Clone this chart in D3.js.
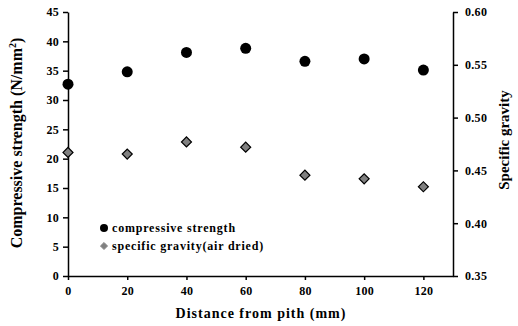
<!DOCTYPE html>
<html lang="en">
<head>
<meta charset="UTF-8">
<script src="https://d3js.org/d3.v7.min.js"></script>
<style>
    body { margin: 0; background: #fff; }
    text { font-family: "Liberation Serif", "DejaVu Serif", serif; font-weight: bold; }
    .axis path, .axis line { stroke: #000; stroke-width: 1.5px; }
    .axis text { font-size: 12px; fill: #000; letter-spacing: 0.3px; }
</style>
</head>
<body>
<svg width="518" height="326"></svg>
<script>
    // distance from pith (mm)
    var distance = [0, 20, 40, 60, 80, 100, 120];
    var strength = [32.7, 34.8, 38.1, 38.8, 36.6, 37.0, 35.1];
    var gravity = [0.467, 0.4655, 0.477, 0.472, 0.4455, 0.442, 0.4345];
    var xTicks = [0, 20, 40, 60, 80, 100, 120];
    var leftTicks = [0, 5, 10, 15, 20, 25, 30, 35, 40, 45];
    var rightTicks = [0.35, 0.40, 0.45, 0.50, 0.55, 0.60];

    var svg = d3.select("svg");
    var x = d3.scaleLinear().domain([0, 130]).range([68, 453]);
    var yL = d3.scaleLinear().domain([0, 45]).range([276, 12]);
    var yR = d3.scaleLinear().domain([0.35, 0.60]).range([276, 12]);

    svg.append("g").attr("class", "axis")
        .attr("transform", "translate(0,276)")
        .call(d3.axisBottom(x).tickValues(xTicks).tickSize(4).tickPadding(6).tickSizeOuter(0));

    svg.append("g").attr("class", "axis")
        .attr("transform", "translate(68,0)")
        .call(d3.axisLeft(yL).tickValues(leftTicks).tickSize(5).tickPadding(4).tickSizeOuter(0));

    svg.append("g").attr("class", "axis")
        .attr("transform", "translate(453,0)")
        .call(d3.axisRight(yR).tickValues(rightTicks).tickFormat(d3.format(".2f")).tickSize(5).tickPadding(7).tickSizeOuter(0));

    svg.selectAll(".axis .domain").attr("stroke-width", 2);

    // points
    var pts = distance.map((d, i) => ({x: d, s: strength[i], g: gravity[i]}));

    svg.append("g").selectAll("path")
        .data(pts).enter().append("path")
        .attr("d", d3.symbol().type(d3.symbolSquare).size(50))
        .attr("transform", d => "translate(" + x(d.x) + "," + yR(d.g) + ") rotate(45)")
        .attr("fill", "#808080").attr("stroke", "#000").attr("stroke-width", 1.2);

    svg.append("g").selectAll("circle")
        .data(pts).enter().append("circle")
        .attr("cx", d => x(d.x)).attr("cy", d => yL(d.s))
        .attr("r", 5.5).attr("fill", "#000");

    // legend
    var leg = svg.append("g").attr("transform", "translate(104,228)");
    leg.append("circle").attr("r", 4).attr("fill", "#000");
    leg.append("text").attr("x", 8).attr("y", 4).style("font-size", "12px")
        .style("letter-spacing", "0.8px").text("compressive strength");
    leg.append("path").attr("d", d3.symbol().type(d3.symbolSquare).size(26))
        .attr("transform", "translate(0,18) rotate(45)")
        .attr("fill", "#808080").attr("stroke", "#888").attr("stroke-width", 0.8);
    leg.append("text").attr("x", 8).attr("y", 22).style("font-size", "12px")
        .style("letter-spacing", "0.8px").text("specific gravity(air dried)");

    // axis titles
    svg.append("text").attr("x", 261).attr("y", 318).attr("text-anchor", "middle")
        .style("font-size", "14px").style("letter-spacing", "1px").text("Distance from pith (mm)");

    var lt = svg.append("text").attr("transform", "translate(22,143) rotate(-90)")
        .attr("text-anchor", "middle").style("font-size", "16px");
    lt.append("tspan").text("Compressive strength (N/mm");
    lt.append("tspan").attr("dy", -6).style("font-size", "10px").text("2");
    lt.append("tspan").attr("dy", 6).text(")");

    svg.append("text").attr("transform", "translate(509,140) rotate(-90)")
        .attr("text-anchor", "middle").style("font-size", "15px").text("Specific gravity");
</script>
</body>
</html>
